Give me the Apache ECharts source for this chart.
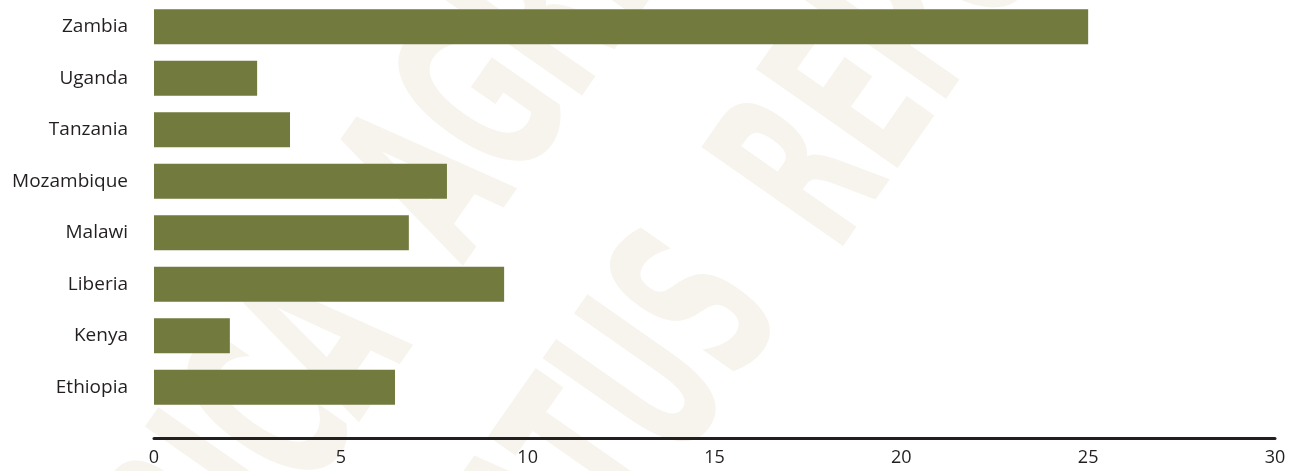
<!DOCTYPE html>
<html>
<head>
<meta charset="utf-8">
<script src="https://cdn.jsdelivr.net/npm/echarts@6/dist/echarts.min.js"></script>
<style>
html,body{margin:0;padding:0;background:#fff;}
#chart{width:1299px;height:471px;}
</style>
</head>
<body>
<div id="chart"></div>
<script>
const categories = ["Ethiopia","Kenya","Liberia","Malawi","Mozambique","Tanzania","Uganda","Zambia"];
const values = [6.45, 2.03, 9.37, 6.82, 7.84, 3.64, 2.76, 25.0];
const xTicks = [0, 5, 10, 15, 20, 25, 30];

const chart = echarts.init(document.getElementById('chart'), null, {renderer:'canvas'});
const font = '"Open Sans", "Noto Sans", sans-serif';
const wmFont = 'bold 237px "DejaVu Sans Condensed", "DejaVu Sans", sans-serif';
const rot = 55*Math.PI/180;
const wmColor = '#f7f4ee';
function wm(text, x, y, align){
  return {type:'text', x:x, y:y, rotation:rot, scaleX:0.58, scaleY:1, z:-10, silent:true,
    style:{text:text, fill:wmColor, font:wmFont, align:align, verticalAlign:'middle'}};
}
chart.setOption({
  animation: false,
  backgroundColor: '#ffffff',
  graphic: [
    wm('AFRICA', 363, 309, 'right'),
    wm('AGRICULTURE', 412, 231, 'left'),
    wm('STATUS', 736, 276, 'right'),
    wm('REPORT', 786, 220, 'left')
  ],
  grid: {left:154, right:24, top:1, bottom:58, containLabel:false},
  xAxis: {
    type:'value', min:xTicks[0], max:xTicks[xTicks.length-1], interval:5,
    offset:25,
    axisLine:{show:true, lineStyle:{color:'#231f20', width:3}},
    axisTick:{show:false},
    splitLine:{show:false},
    axisLabel:{color:'#231f20', fontSize:18, fontFamily:font, margin:11}
  },
  yAxis: {
    type:'category', data:categories,
    axisLine:{show:false}, axisTick:{show:false},
    axisLabel:{color:'#231f20', fontSize:19, fontFamily:font, margin:26}
  },
  series: [{
    type:'bar', data:values, barCategoryGap:'32%',
    itemStyle:{color:'#737a3e'}
  }]
});
</script>
</body>
</html>
